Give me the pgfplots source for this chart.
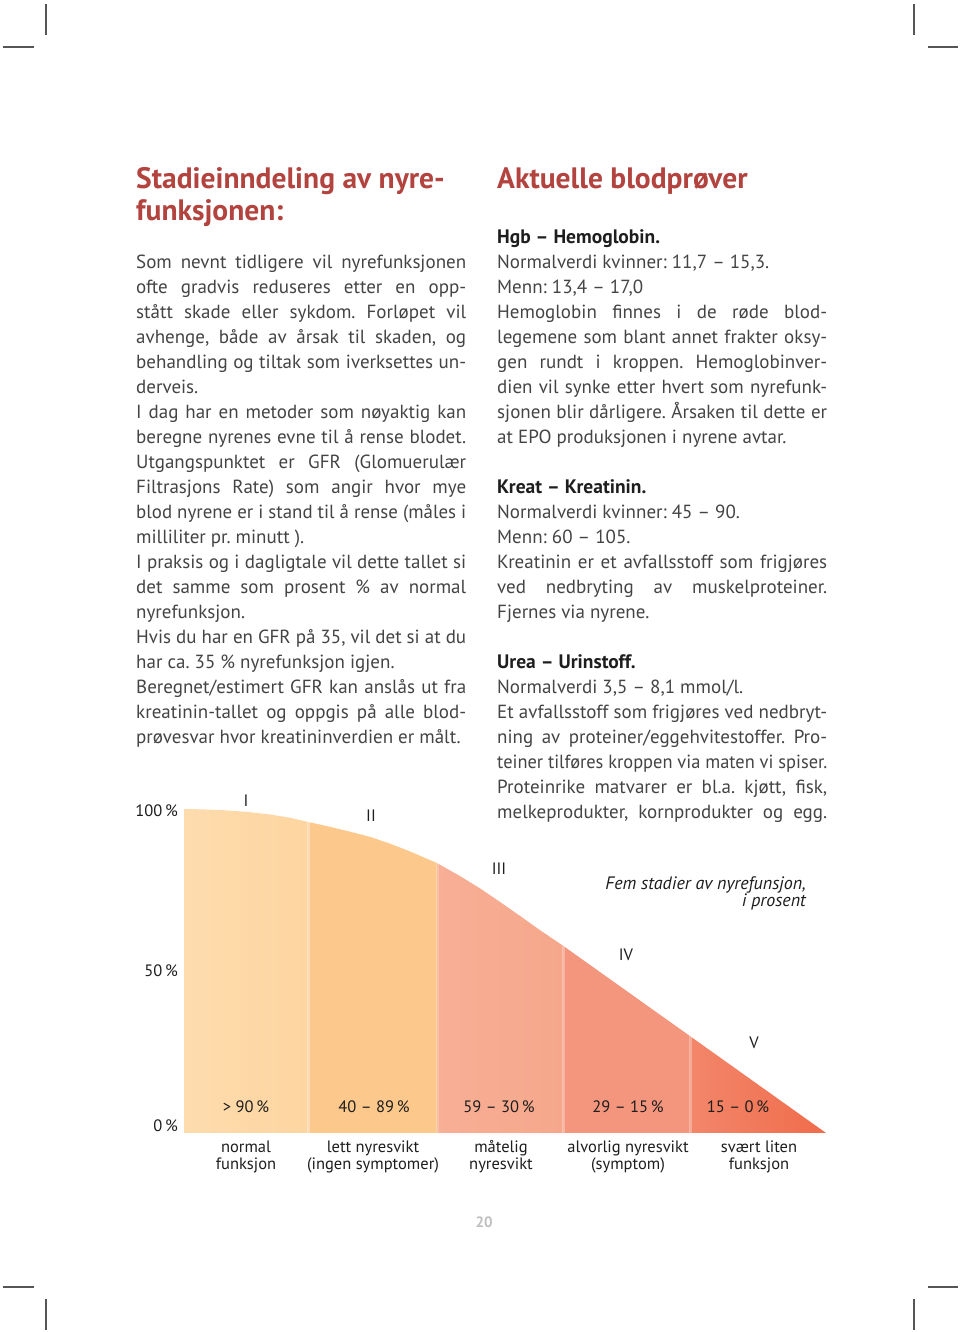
\documentclass[border=0pt]{standalone}
\usepackage{pgfplots}
\pgfplotsset{compat=1.18}
\usepackage{graphicx}
\usepackage{fontspec}
\setmainfont{PT Sans}
\frenchspacing
\definecolor{titlered}{HTML}{B2433E}
\definecolor{body}{HTML}{444444}
\definecolor{head}{HTML}{1E1E1E}
\definecolor{sI}{HTML}{FDD5A0}
\definecolor{sIl}{HTML}{FEDCAE}
\definecolor{sII}{HTML}{FCC88C}
\definecolor{sIII}{HTML}{F6A78B}
\definecolor{sIIIl}{HTML}{F7AF95}
\definecolor{sIV}{HTML}{F4967D}
\definecolor{sV}{HTML}{EF6C4B}
\definecolor{sVl}{HTML}{F3866A}
\definecolor{crop}{HTML}{555555}
\newcommand{\J}[1]{\sbox0{#1}\ifdim\wd0>\linewidth\pgfmathsetmacro\myr{\linewidth/\wd0}\scalebox{\myr}[1]{\usebox0}\else\makebox[\linewidth][s]{#1}\fi\par}
\newcommand{\Lf}[1]{#1\par}
\newcommand{\chartfont}{\fontsize{16.5}{17}\selectfont}
\begin{document}
\begin{tikzpicture}[x=1pt,y=1pt]
\useasboundingbox[fill=white] (0,0) rectangle (960,1332);
% crop marks
\begin{scope}[crop, line width=1.1pt]
\draw (46,1332-4) -- (46,1332-35);
\draw (3,1332-47) -- (34,1332-47);
\draw (914,1332-4) -- (914,1332-35);
\draw (928,1332-47) -- (958,1332-47);
\draw (3,1332-1287) -- (34,1332-1287);
\draw (46,1332-1299) -- (46,1332-1330);
\draw (928,1332-1287) -- (958,1332-1287);
\draw (914,1332-1299) -- (914,1332-1330);
\end{scope}
% titles
\node[anchor=base west, inner sep=0pt, text=titlered, font=\fontsize{29.5}{32}\selectfont\bfseries] at (136,1332-189) {Stadieinndeling av nyre-};
\node[anchor=base west, inner sep=0pt, text=titlered, font=\fontsize{29.5}{32}\selectfont\bfseries] at (136,1332-221) {funksjonen:};
\node[anchor=base west, inner sep=0pt, text=titlered, font=\fontsize{29.5}{32}\selectfont\bfseries] at (497,1332-189) {Aktuelle blodprøver};
% left column
\node[anchor=base west, inner sep=0pt, text=body] at (136,1332-269) {\parbox[t]{330pt}{\fontsize{19}{25}\selectfont
\J{Som nevnt tidligere vil nyrefunksjonen}
\J{ofte gradvis reduseres etter en opp-}
\J{stått skade eller sykdom. Forløpet vil}
\J{avhenge, både av årsak til skaden, og}
\J{behandling og tiltak som iverksettes un-}
\Lf{derveis.}
\J{I dag har en metoder som nøyaktig kan}
\J{beregne nyrenes evne til å rense blodet.}
\J{Utgangspunktet er GFR (Glomuerulær}
\J{Filtrasjons Rate) som angir hvor mye}
\J{blod nyrene er i stand til å rense (måles i}
\Lf{milliliter pr. minutt ).}
\J{I praksis og i dagligtale vil dette tallet si}
\J{det samme som prosent \% av normal}
\Lf{nyrefunksjon.}
\J{Hvis du har en GFR på 35, vil det si at du}
\Lf{har ca. 35 \% nyrefunksjon igjen.}
\J{Beregnet/estimert GFR kan anslås ut fra}
\J{kreatinin-tallet og oppgis på alle blod-}
\Lf{prøvesvar hvor kreatininverdien er målt.}
}};
% right column
\node[anchor=base west, inner sep=0pt, text=body] at (497,1332-244) {\parbox[t]{330pt}{\fontsize{19}{25}\selectfont
\Lf{\textcolor{head}{\fontsize{19.5}{25}\selectfont\bfseries Hgb – Hemoglobin.}}
\Lf{Normalverdi kvinner: 11,7 – 15,3.}
\Lf{Menn: 13,4 – 17,0}
\J{Hemoglobin finnes i de røde blod-}
\J{legemene som blant annet frakter oksy-}
\J{gen rundt i kroppen. Hemoglobinver-}
\J{dien vil synke etter hvert som nyrefunk-}
\J{sjonen blir dårligere. Årsaken til dette er}
\Lf{at EPO produksjonen i nyrene avtar.}
\Lf{\mbox{}}
\Lf{\textcolor{head}{\fontsize{19.5}{25}\selectfont\bfseries Kreat – Kreatinin.}}
\Lf{Normalverdi kvinner: 45 – 90.}
\Lf{Menn: 60 – 105.}
\J{Kreatinin er et avfallsstoff som frigjøres}
\J{ved nedbryting av muskelproteiner.}
\Lf{Fjernes via nyrene.}
\Lf{\mbox{}}
\Lf{\textcolor{head}{\fontsize{19.5}{25}\selectfont\bfseries Urea – Urinstoff.}}
\Lf{Normalverdi 3,5 – 8,1 mmol/l.}
\J{Et avfallsstoff som frigjøres ved nedbryt-}
\J{ning av proteiner/eggehvitestoffer. Pro-}
\J{teiner tilføres kroppen via maten vi spiser.}
\J{Proteinrike matvarer er bl.a. kjøtt, fisk,}
\J{melkeprodukter, kornprodukter og egg.}
}};
% page number
\node[text=black!25, font=\fontsize{15}{17}\selectfont\bfseries] at (484,1332-1222) {20};
% chart
\begin{axis}[at={(184pt,199pt)}, anchor=south west, scale only axis,
  width=642pt, height=324pt, xmin=184, xmax=826, ymin=0, ymax=100,
  axis line style={draw=none}, xtick=\empty,
  ytick={2.2,50,99.4}, yticklabels={0\,\%,50\,\%,100\,\%},
  major tick length=0pt,
  yticklabel style={font=\chartfont, text=head, inner sep=0pt, xshift=-6pt},
  clip=false]
\addplot[draw=none, left color=sIl, right color=sI] coordinates {
 (184,100) (200,99.9) (220,99.7) (247,99.1) (270,98.3) (290,97.3) (308,96.0)} \closedcycle;
\addplot[draw=none, fill=sII] coordinates {
 (308,96.0) (330,94.5) (350,93.0) (370,91.4) (390,89.3) (410,86.9) (437,83.3)} \closedcycle;
\addplot[draw=none, left color=sIIIl, right color=sIII] coordinates {
 (437,83.3) (460,79.3) (480,75.5) (500,71.3) (520,67.0) (540,62.6) (563,57.8)} \closedcycle;
\addplot[draw=none, fill=sIV] coordinates {
 (563,57.8) (690,29.9)} \closedcycle;
\addplot[draw=none, left color=sVl, right color=sV] coordinates {
 (690,29.9) (826,0)} \closedcycle;
% light separators
\addplot[white, opacity=0.35, line width=3pt] coordinates {(308,0) (308,96.0)};
\addplot[white, opacity=0.2, line width=3pt] coordinates {(437.5,0) (437.5,83.3)};
\addplot[white, opacity=0.3, line width=3pt] coordinates {(563,0) (563,57.8)};
\addplot[white, opacity=0.3, line width=3pt] coordinates {(690,0) (690,29.9)};
% stage numerals
\begin{scope}[every node/.style={font=\chartfont, text=head}]
\node at (axis cs:246,102.5) {I};
\node at (axis cs:371,97.8) {II};
\node at (axis cs:499,81.5) {III};
\node at (axis cs:626,54.9) {IV};
\node at (axis cs:754,27.8) {V};
\node at (axis cs:246,8.0) {> 90\,\%};
\node at (axis cs:374,8.0) {40 – 89\,\%};
\node at (axis cs:499,8.0) {59 – 30\,\%};
\node at (axis cs:628,8.0) {29 – 15\,\%};
\node at (axis cs:738,8.0) {15 – 0\,\%};
\node[align=center] at (axis cs:246,-7.4) {normal\\funksjon};
\node[align=center] at (axis cs:373,-7.4) {lett nyresvikt\\(ingen symptomer)};
\node[align=center] at (axis cs:501,-7.4) {måtelig\\nyresvikt};
\node[align=center] at (axis cs:628,-7.4) {alvorlig nyresvikt\\(symptom)};
\node[align=center] at (axis cs:759,-7.4) {svært liten\\funksjon};
\node[align=right, anchor=east, inner sep=0pt, font=\fontsize{18}{17.5}\selectfont\itshape, text=head] at (axis cs:806,73.9) {Fem stadier av nyrefunsjon,\\i prosent};
\end{scope}
\end{axis}
\end{tikzpicture}
\end{document}
